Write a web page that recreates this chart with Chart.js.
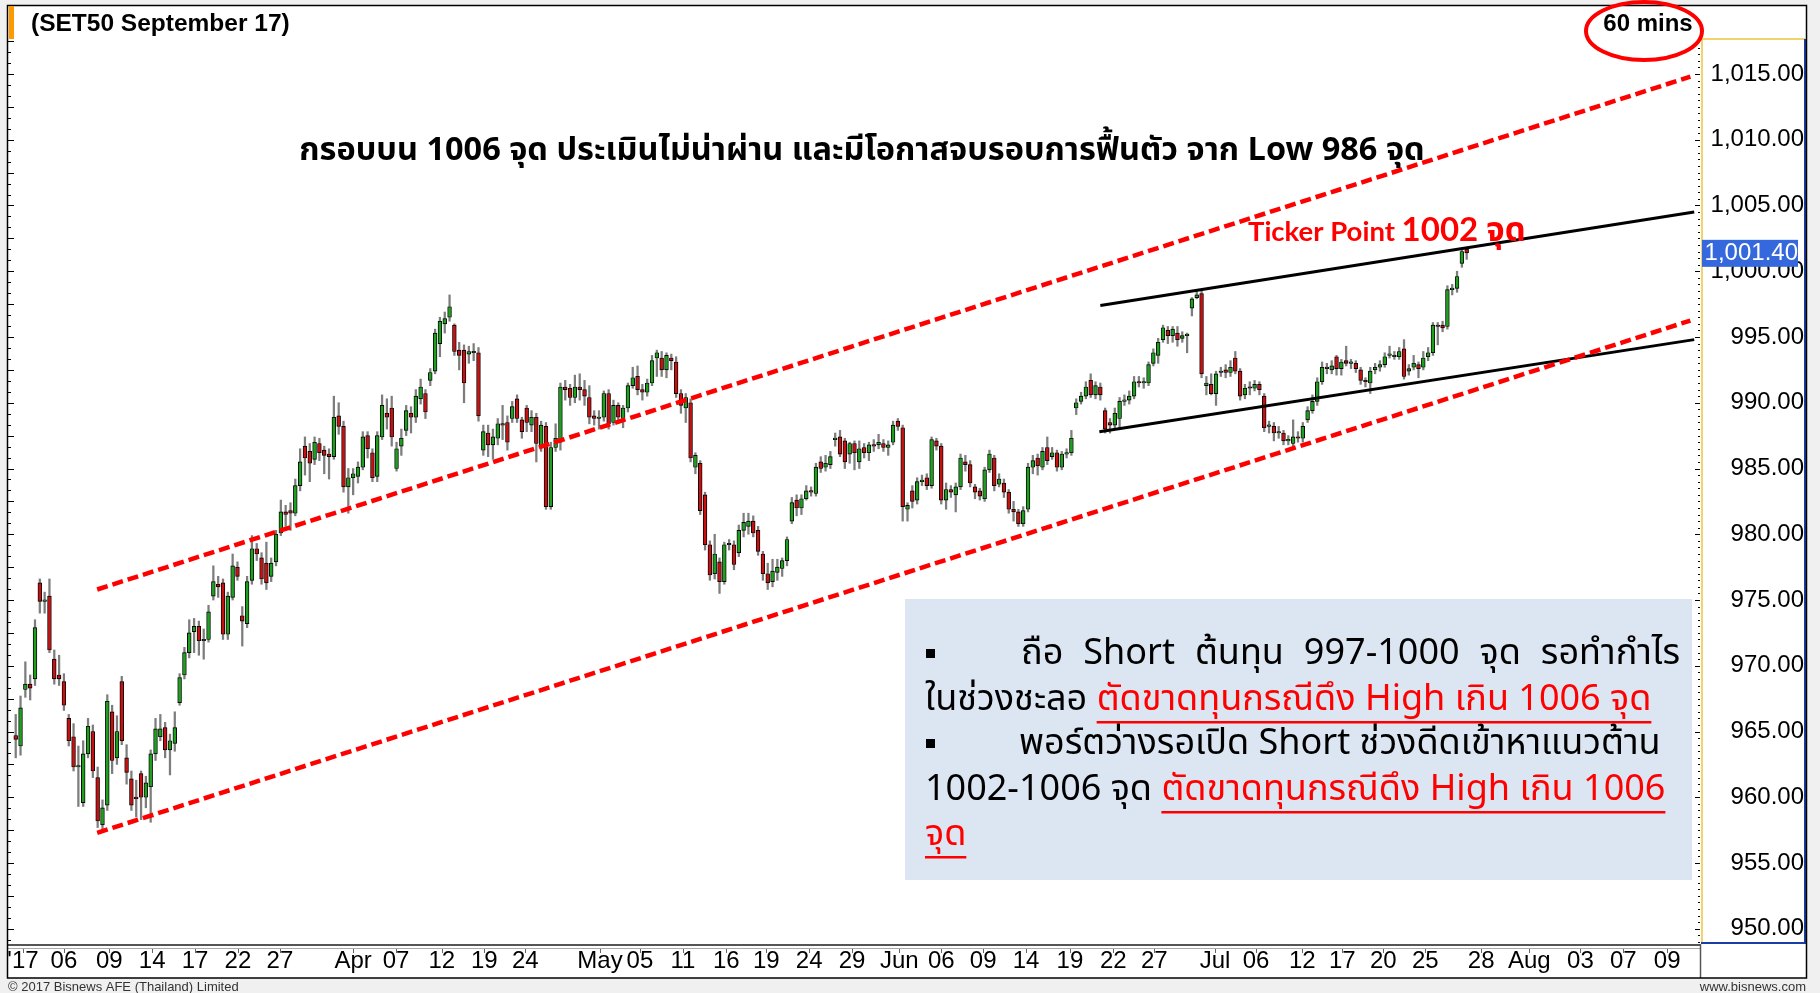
<!DOCTYPE html>
<html><head><meta charset="utf-8">
<script src="https://cdn.jsdelivr.net/npm/chart.js@4.4.1/dist/chart.umd.min.js"></script>
<style>
html,body{margin:0;padding:0;background:#f0f0f0;overflow:hidden}
canvas{display:block}
</style></head>
<body><canvas id="c" width="1820" height="993"></canvas>
<script>
// ---- data (60-minute bars, SET50 Sep-17 futures) ----
const opens = [964.7,963.9,968.2,968.6,969.0,976.3,974.9,975.3,970.5,969.3,968.8,966.0,964.6,962.3,959.6,963.3,965.0,961.5,957.9,959.4,
966.5,963.0,968.8,963.0,961.4,960.0,961.8,960.0,960.8,963.3,964.6,965.3,963.6,964.1,967.2,969.3,971.0,972.6,973.0,971.9,
972.0,975.3,976.2,976.3,972.4,975.2,977.5,973.8,973.2,976.5,978.9,978.2,977.8,976.8,977.9,980.1,981.7,981.8,981.6,983.7,
986.7,986.3,985.7,986.9,986.4,986.1,985.9,989.0,988.2,983.6,984.3,984.4,985.1,987.5,986.2,984.4,987.4,989.2,989.6,985.0,
986.7,987.9,989.2,988.9,990.3,990.7,991.7,992.4,994.5,996.0,996.5,995.9,994.0,994.0,993.7,993.8,993.8,986.4,987.7,986.8,
987.3,988.4,988.5,988.8,990.3,988.7,989.6,988.3,988.9,986.6,988.2,982.1,986.6,987.0,991.2,991.1,990.4,991.2,991.0,990.4,
989.0,988.8,988.9,990.7,988.5,989.8,988.8,989.6,991.3,992.0,991.0,990.8,991.5,993.4,993.4,992.5,993.4,993.1,990.7,989.6,
990.0,985.1,985.4,983.0,979.2,977.0,977.9,976.4,979.2,979.2,978.6,980.3,980.6,981.0,980.3,978.5,977.0,976.4,977.1,977.4,
978.0,981.0,982.6,982.0,982.7,983.3,983.1,985.5,985.1,985.3,987.2,987.4,987.1,986.1,986.9,985.5,986.6,986.2,986.8,986.8,
986.9,986.6,987.0,988.6,988.1,981.9,983.3,982.6,984.0,984.3,983.7,987.1,986.7,982.6,983.4,983.0,983.6,985.5,985.3,983.6,
983.3,982.7,984.9,985.8,983.8,983.9,983.2,981.9,981.7,980.8,981.9,985.1,985.8,985.1,986.6,985.9,986.2,985.1,986.1,986.2,
989.6,990.1,990.5,991.7,990.6,991.2,989.4,988.5,988.3,988.8,990.1,990.2,990.5,991.6,991.5,991.5,993.0,993.6,994.8,995.5,
995.1,995.3,994.9,995.1,997.2,998.0,998.3,991.3,991.4,990.7,992.3,992.5,992.3,993.4,992.4,990.6,991.2,991.1,991.4,990.5,
988.2,988.2,987.7,987.7,987.1,986.9,987.4,987.3,988.7,989.4,990.1,991.6,992.7,992.5,993.5,992.6,993.2,993.0,993.0,992.5,
991.7,991.5,992.5,992.7,992.9,993.6,993.5,993.5,994.1,992.4,992.7,992.9,992.7,993.5,993.8,995.9,995.9,995.8,998.6,998.7,
1000.6,1001.7];
const highs = [966.3,967.7,970.3,969.3,973.5,976.6,975.6,976.6,971.2,970.8,969.4,966.3,965.6,963.9,964.3,966.0,965.5,962.3,959.8,967.8,
967.0,966.2,969.2,964.0,962.0,961.3,962.0,961.6,963.6,966.0,966.3,965.7,964.8,966.5,969.4,971.4,973.5,973.6,973.4,972.8,
974.6,977.6,976.8,976.6,975.6,978.5,977.9,974.5,976.8,979.9,979.3,978.6,979.4,978.2,980.3,982.6,982.2,982.4,984.2,986.5,
987.4,986.9,987.4,987.3,986.7,986.5,990.5,990.0,988.6,985.0,985.0,985.5,987.8,987.8,986.5,987.8,990.6,990.3,990.5,987.0,
988.0,989.8,989.7,991.0,991.8,991.0,992.6,995.6,996.5,996.9,998.2,996.0,994.6,994.4,994.3,994.5,994.2,988.3,988.3,988.0,
988.8,989.8,989.0,990.1,990.6,988.9,989.8,989.4,989.2,988.6,988.5,987.0,988.4,991.5,991.7,991.4,992.1,992.2,991.7,991.3,
989.4,989.4,990.9,991.0,990.2,990.0,989.8,991.5,992.7,992.8,991.4,991.8,993.6,994.0,993.9,993.8,993.7,993.5,991.0,990.7,
990.3,986.2,985.6,983.2,979.5,980.0,978.2,979.4,979.6,979.5,980.7,981.6,981.6,981.4,980.6,978.7,977.8,978.1,978.1,978.2,
979.8,982.8,983.0,983.0,983.7,983.6,985.4,985.9,986.0,986.3,987.7,987.9,987.3,987.0,987.1,987.1,986.9,987.0,987.2,987.6,
987.2,987.1,988.6,988.8,988.3,982.4,983.7,984.3,984.5,984.6,987.4,987.3,986.9,983.9,983.7,983.9,986.1,986.0,985.6,983.8,
983.5,985.1,986.4,986.0,984.6,984.2,983.4,982.5,981.9,982.1,985.4,986.0,986.1,986.6,987.4,986.6,986.4,986.3,986.5,987.9,
990.3,990.8,991.6,992.2,991.6,991.5,989.6,988.8,989.6,990.4,990.6,990.9,992.0,992.0,991.9,993.1,994.1,994.9,995.9,995.8,
995.8,995.8,995.4,995.3,998.0,998.5,998.6,992.0,992.2,992.4,992.7,992.9,993.2,993.9,992.6,991.4,991.6,991.7,991.6,990.7,
988.6,988.5,988.2,987.9,987.5,988.7,987.8,988.5,989.7,990.6,991.9,993.1,993.0,993.2,993.6,993.3,994.3,993.3,993.2,992.7,
991.9,992.7,993.0,993.2,993.8,994.3,993.9,994.2,994.8,992.9,993.6,993.1,993.9,994.2,996.1,996.1,996.2,998.9,999.0,1000.0,
1001.7,1001.8];
const lows = [963.0,963.2,967.6,967.4,968.5,974.0,974.0,971.0,968.6,968.5,966.6,963.9,962.0,959.3,959.3,963.0,961.5,957.7,957.6,959.0,
961.8,962.5,964.0,961.0,959.0,958.5,958.3,959.2,958.1,962.8,964.3,963.0,961.7,963.5,967.0,969.0,970.6,971.0,970.8,970.5,
971.8,975.0,975.2,972.0,972.0,975.0,976.5,971.5,972.9,976.2,978.0,976.2,975.8,976.4,977.6,979.9,980.6,980.3,981.4,983.3,
984.5,984.0,985.3,985.6,984.6,984.2,985.7,987.6,983.2,981.6,983.0,983.9,984.9,985.8,984.0,984.0,987.2,988.0,986.7,984.8,
986.0,987.5,987.7,988.5,989.9,988.8,991.3,992.2,993.5,995.3,996.2,993.6,992.5,990.0,993.0,993.2,988.6,986.0,985.9,985.7,
986.8,987.2,986.4,988.5,988.5,987.3,987.8,987.8,985.5,986.3,981.9,981.9,986.3,986.4,990.2,989.8,990.0,990.2,989.8,988.4,
988.3,988.0,988.6,988.0,988.3,988.6,988.1,989.3,991.1,990.6,990.2,990.5,991.3,992.0,992.0,991.9,992.5,990.4,989.2,988.5,
985.5,984.6,981.5,978.8,976.5,976.6,975.5,976.2,978.8,977.3,978.3,979.8,980.0,979.8,978.4,976.5,975.8,976.0,976.5,976.8,
977.6,980.8,981.4,981.5,982.6,982.9,982.9,984.7,984.8,985.0,986.7,985.9,985.0,985.4,984.9,985.0,985.8,985.6,986.3,986.5,
986.3,986.0,986.8,987.9,981.0,981.0,982.0,982.3,983.7,983.4,983.5,986.4,982.3,981.9,982.8,981.7,983.4,984.8,983.6,982.7,
982.6,982.5,984.7,983.3,983.6,982.8,981.6,981.0,980.6,980.6,981.7,984.6,984.5,984.9,985.3,985.7,984.8,984.9,985.8,986.0,
989.1,989.9,990.3,990.4,990.3,990.2,987.7,987.7,988.0,988.1,989.8,989.9,990.3,991.2,991.1,991.3,992.8,993.0,994.6,994.5,
994.6,994.3,994.6,993.8,996.6,997.9,991.9,990.6,990.6,989.8,992.0,991.9,992.0,992.2,990.2,990.3,990.6,990.9,990.6,987.8,
987.7,987.1,987.3,986.8,986.8,986.7,987.0,987.0,988.5,989.2,989.8,991.4,992.2,992.2,992.1,992.1,992.8,992.6,992.3,991.4,
991.2,990.7,992.2,992.4,992.7,993.4,993.3,993.3,991.8,992.1,992.5,991.9,992.5,993.2,993.6,994.4,995.4,995.6,998.2,998.4,
1000.3,1000.9];
const closes = [964.4,966.8,968.6,968.3,972.9,974.9,974.9,971.2,969.0,969.0,967.0,964.3,962.3,962.4,963.3,965.4,962.0,958.2,959.2,967.3,
962.8,965.0,964.3,961.9,959.4,959.9,960.0,961.1,963.3,965.2,965.2,963.6,964.3,965.3,969.1,971.0,972.5,973.0,971.9,972.0,
974.1,976.4,976.0,972.4,975.3,977.6,976.8,973.4,976.4,978.9,978.5,976.6,976.3,977.8,980.0,981.7,981.5,981.6,983.7,985.5,
985.8,985.4,987.0,986.2,986.0,985.9,988.9,988.2,983.6,984.3,984.6,985.1,987.4,986.5,984.3,987.5,989.8,988.9,987.4,986.5,
987.3,989.4,988.9,990.5,991.2,989.3,992.3,995.3,996.2,996.4,997.3,993.9,993.6,991.5,993.9,993.8,989.0,987.8,986.8,987.4,
988.4,988.3,987.0,989.7,988.8,987.8,988.5,988.9,986.9,988.3,982.1,986.6,987.3,991.2,991.0,990.4,991.2,991.0,990.5,988.9,
988.8,988.9,990.7,988.4,989.8,988.9,989.6,991.3,991.9,991.0,990.8,991.5,993.2,993.8,992.5,993.6,993.2,990.7,989.8,990.4,
985.8,986.0,981.8,979.2,976.9,978.5,976.4,979.2,979.3,977.7,980.3,980.9,981.0,980.1,978.7,977.0,976.3,977.2,977.5,978.0,
979.6,982.4,982.0,982.7,983.3,983.2,985.1,985.0,985.4,985.9,987.3,986.1,985.5,986.9,986.2,986.5,986.2,986.8,986.7,987.0,
986.6,986.8,988.3,988.2,982.1,982.2,982.5,984.0,984.0,983.7,987.2,986.7,982.6,983.4,983.2,983.6,985.8,985.3,983.9,983.2,
982.9,984.9,986.1,983.7,984.2,983.2,981.9,981.7,980.8,981.8,985.1,985.6,985.2,986.3,985.6,986.2,985.1,986.1,986.2,987.3,
990.0,990.5,991.2,990.6,991.3,990.6,988.0,988.3,989.2,990.1,990.2,990.5,991.6,991.5,991.6,992.9,993.8,994.6,995.7,995.1,
995.6,994.8,995.1,995.2,997.9,998.2,992.2,991.5,990.7,992.2,992.4,992.3,992.7,992.4,990.5,991.1,991.1,991.4,991.0,988.1,
988.3,987.7,987.8,987.1,987.2,987.4,987.3,988.2,989.4,990.1,991.6,992.7,992.6,992.8,992.6,993.1,993.0,993.0,992.6,991.7,
991.6,992.4,992.7,992.9,993.5,993.6,993.6,993.9,992.0,992.6,993.0,992.6,993.4,993.8,995.9,995.8,995.7,998.6,998.6,999.6,
1001.5,1001.4];
const barIndex = opens.map((v, i) => i);

const xTickPositions = [1.5,10.0,19.4,28.3,37.2,46.1,54.8,70.0,78.9,88.4,97.2,105.7,121.2,129.5,138.4,147.4,155.7,164.6,173.5,
183.3,192.0,200.7,209.6,218.7,227.7,236.2,248.8,257.3,266.9,275.2,283.7,292.4,304.0,314.0,324.6,333.5,342.6];
const xTickLabels = ["'17","06","09","14","17","22","27","Apr","07","12","19","24","May","05","11","16","19","24","29",
"Jun","06","09","14","19","22","27","Jul","06","12","17","20","25","28","Aug","03","07","09"];
const yTickValues = [950,955,960,965,970,975,980,985,990,995,1000,1005,1010,1015];

const upperChannel = [{x:16.9, y:975.8}, {x:347.4, y:1014.8}];
const lowerChannel = [{x:16.9, y:957.3}, {x:347.4, y:996.25}];
const upperResistance = [{x:225.0, y:997.4}, {x:348.2, y:1004.5}];
const lowerSupport = [{x:224.8, y:987.8}, {x:348.2, y:994.8}];
const lastPrice = 1001.40;

// ---- fonts / colours ----
const THAI = '"Noto Sans Thai","Noto Sans Thai UI","Leelawadee UI",Tahoma,"Noto Sans",sans-serif';
const ARIAL = '"Liberation Sans",Arial,sans-serif';
const NARROW = '"Liberation Sans Narrow","Arial Narrow","Liberation Sans",sans-serif';
const CAL = 'Lato,"Open Sans",' + THAI;
const UP = '#1f9e1f', DOWN = '#c41212';

const decor = {
  id: 'decor',
  beforeDraw(chart) {
    const ctx = chart.ctx;
    ctx.save();
    ctx.fillStyle = '#f0f0f0'; ctx.fillRect(0, 0, 1820, 993);
    ctx.fillStyle = '#ffffff'; ctx.fillRect(8, 5, 1798, 973);
    ctx.restore();
  },
  afterDraw(chart) {
    const ctx = chart.ctx, xs = chart.scales.x, ys = chart.scales.y, a = chart.chartArea;
    ctx.save();
    // left edge ticks
    ctx.strokeStyle = '#000'; ctx.lineWidth = 1;
    const st = 2.5 / 3;
    for (let k = Math.ceil(ys.min / st); k * st <= ys.max; k++) {
      const py = Math.round(ys.getPixelForValue(k * st)) + 0.5;
      const len = (k % 3 === 0) ? 6 : 3;
      ctx.beginPath(); ctx.moveTo(a.left, py); ctx.lineTo(a.left + len, py); ctx.stroke();
    }
    // right side dotted ticks
    for (let k = Math.ceil(ys.min * 2); k / 2 <= ys.max; k++) {
      const py = Math.round(ys.getPixelForValue(k / 2)) + 0.5;
      const len = (k % 10 === 0) ? 5 : 2;
      ctx.beginPath(); ctx.moveTo(a.right - len, py); ctx.lineTo(a.right, py); ctx.stroke();
    }
    // y panel borders
    ctx.lineWidth = 2;
    ctx.strokeStyle = '#f2d36b';
    ctx.beginPath(); ctx.moveTo(a.right + 2, a.bottom); ctx.lineTo(a.right + 2, a.top); ctx.lineTo(1805, a.top); ctx.stroke();
    ctx.strokeStyle = '#1b3ea6';
    ctx.beginPath(); ctx.moveTo(1805, a.top); ctx.lineTo(1805, a.bottom); ctx.lineTo(a.right + 1, a.bottom); ctx.stroke();
    // x strip
    ctx.strokeStyle = '#555'; ctx.lineWidth = 2;
    ctx.beginPath(); ctx.moveTo(a.left, 945); ctx.lineTo(a.right, 945); ctx.stroke();
    ctx.strokeStyle = '#aaa'; ctx.lineWidth = 1;
    ctx.beginPath(); ctx.moveTo(a.left, 948.5); ctx.lineTo(a.right, 948.5); ctx.stroke();
    ctx.strokeStyle = '#666';
    xTickPositions.forEach(p => {
      const px = Math.round(xs.getPixelForValue(p)) + 0.5;
      ctx.beginPath(); ctx.moveTo(px, 949); ctx.lineTo(px, 953); ctx.stroke();
    });
    ctx.strokeStyle = '#555'; ctx.lineWidth = 1.5;
    ctx.beginPath(); ctx.moveTo(a.right + 0.5, 944); ctx.lineTo(a.right + 0.5, 978); ctx.stroke();
    // outer frame
    ctx.strokeStyle = '#000'; ctx.lineWidth = 1.5;
    ctx.strokeRect(7.5, 5.5, 1799, 972.5);
    // orange marker + title
    ctx.fillStyle = '#ff9900'; ctx.fillRect(9, 6, 5, 33);
    ctx.fillStyle = '#000'; ctx.textBaseline = 'middle'; ctx.textAlign = 'left';
    ctx.font = 'bold 24.5px ' + ARIAL;
    ctx.fillText('(SET50 September 17)', 31, 24);
    ctx.textAlign = 'center';
    ctx.font = 'bold 24px ' + ARIAL;
    ctx.fillText('60 mins', 1648, 24);
    ctx.strokeStyle = '#ff0000'; ctx.lineWidth = 4;
    ctx.beginPath(); ctx.ellipse(1644, 31, 58, 29, 0, 0, Math.PI * 2); ctx.stroke();
    // copyright
    ctx.font = '13px ' + NARROW; ctx.fillStyle = '#333'; ctx.textAlign = 'left';
    ctx.fillText('\u00a9 2017 Bisnews AFE (Thailand) Limited', 8, 987);
    ctx.textAlign = 'right';
    ctx.fillText('www.bisnews.com', 1806, 987);
    // last price tag
    const pp = ys.getPixelForValue(lastPrice);
    ctx.fillStyle = '#3468dc'; ctx.fillRect(a.right + 2, pp - 13, 96, 27);
    ctx.fillStyle = '#fff'; ctx.font = '24px ' + ARIAL; ctx.textAlign = 'right';
    ctx.fillText(lastPrice.toLocaleString('en-US', {minimumFractionDigits: 2}), 1798, pp + 1);
    // headline
    ctx.fillStyle = '#000'; ctx.textAlign = 'center';
    ctx.font = 'bold 32.5px ' + THAI;
    ctx.fillText('กรอบบน 1006 จุด ประเมินไม่น่าผ่าน และมีโอกาสจบรอบการฟื้นตัว จาก Low 986 จุด', 862, 153);
    // ticker point
    ctx.fillStyle = '#ff0000'; ctx.textAlign = 'left'; ctx.textBaseline = 'alphabetic';
    ctx.font = 'bold 27.5px ' + CAL;
    ctx.fillText('Ticker Point ', 1248, 241);
    const tw = ctx.measureText('Ticker Point ').width;
    ctx.font = 'bold 33px ' + CAL;
    ctx.fillText('1002 จุด', 1248 + tw, 241);
    // note box
    ctx.fillStyle = '#dce6f2'; ctx.fillRect(905, 599, 787, 281);
    ctx.textBaseline = 'middle';
    const lines = [
      {y: 657, bullet: true, justify: 1680, segs: [{x: 1021, t: 'ถือ Short ต้นทุน 997-1000 จุด รอทำกำไร', red: false}]},
      {y: 703, segs: [{x: 925, t: 'ในช่วงชะลอ ', red: false}, {x: null, t: 'ตัดขาดทุนกรณีดึง High เกิน 1006 จุด', red: true}]},
      {y: 747, bullet: true, segs: [{x: 1019, t: 'พอร์ตว่างรอเปิด Short ช่วงดีดเข้าหาแนวต้าน', red: false}]},
      {y: 793, segs: [{x: 925, t: '1002-1006 จุด ', red: false}, {x: null, t: 'ตัดขาดทุนกรณีดึง High เกิน 1006', red: true}]},
      {y: 838, segs: [{x: 925, t: 'จุด', red: true}]}
    ];
    ctx.font = '36px ' + THAI;
    lines.forEach(L => {
      let cx = 925;
      if (L.bullet) { ctx.fillStyle = '#000'; ctx.fillRect(926, L.y - 8, 9, 9); }
      L.segs.forEach(s => {
        if (s.x !== null) cx = s.x;
        if (L.justify) {
          // spread the words so the line ends at the justified edge
          const words = s.t.split(' ');
          const ws = words.map(wd => ctx.measureText(wd).width);
          const gap = (L.justify - cx - ws.reduce((p, q) => p + q, 0)) / (words.length - 1);
          ctx.fillStyle = '#000';
          words.forEach((wd, k) => { ctx.fillText(wd, cx, L.y); cx += ws[k] + gap; });
          return;
        }
        const w = ctx.measureText(s.t).width;
        ctx.fillStyle = s.red ? '#ff0000' : '#000';
        ctx.fillText(s.t, cx, L.y);
        if (s.red) { ctx.fillRect(cx, L.y + 18, w, 2.5); }
        cx += w;
      });
    });
    ctx.restore();
  }
};

const lineDs = (data, color, width, dash) => ({
  type: 'line', data, borderColor: color, borderWidth: width, borderDash: dash,
  borderCapStyle: 'butt', pointRadius: 0, fill: false, order: 0, tension: 0
});

new Chart(document.getElementById('c'), {
  type: 'bar',
  data: {
    datasets: [
      lineDs(upperChannel, '#ff0000', 4.5, [11, 5]),
      lineDs(lowerChannel, '#ff0000', 4.5, [11, 5]),
      lineDs(upperResistance, '#000000', 3, []),
      lineDs(lowerSupport, '#000000', 3, []),
      {
        label: 'body', order: 1, grouped: false,
        data: barIndex.map(i => ({x: i, y: [opens[i], closes[i]]})),
        backgroundColor: c => closes[c.dataIndex] >= opens[c.dataIndex] ? UP : DOWN,
        borderColor: '#000', borderWidth: 0.9, borderSkipped: false,
        barThickness: 3.8, minBarLength: 1.5
      },
      {
        label: 'wick', order: 2, grouped: false,
        data: barIndex.map(i => ({x: i, y: [lows[i], highs[i]]})),
        backgroundColor: '#7d7d7d', borderWidth: 0, barThickness: 1.6
      }
    ]
  },
  options: {
    responsive: false, animation: false, devicePixelRatio: 1,
    layout: {padding: {left: 8, top: 39, right: 16, bottom: 15}},
    plugins: {legend: {display: false}, tooltip: {enabled: false}},
    scales: {
      x: {
        type: 'linear', min: -1.6, max: 349.4, offset: false,
        grid: {display: false, drawTicks: false}, border: {display: false},
        afterFit: s => { s.height = 35; },
        afterBuildTicks: s => { s.ticks = xTickPositions.map(v => ({value: v})); },
        ticks: {
          autoSkip: false, maxRotation: 0, minRotation: 0, padding: 6,
          color: '#000', font: {family: ARIAL, size: 24, lineHeight: 1},
          callback: (v, i) => xTickLabels[i]
        }
      },
      y: {
        type: 'linear', position: 'right', min: 948.92, max: 1017.66,
        grid: {display: false, drawTicks: false}, border: {display: false},
        afterFit: s => { s.width = 104; },
        afterBuildTicks: s => { s.ticks = yTickValues.map(v => ({value: v})); },
        ticks: {
          crossAlign: 'far', padding: 0, color: '#000',
          font: {family: ARIAL, size: 24},
          callback: v => v.toLocaleString('en-US', {minimumFractionDigits: 2, maximumFractionDigits: 2})
        }
      }
    }
  },
  plugins: [decor]
});
</script>
</body></html>
